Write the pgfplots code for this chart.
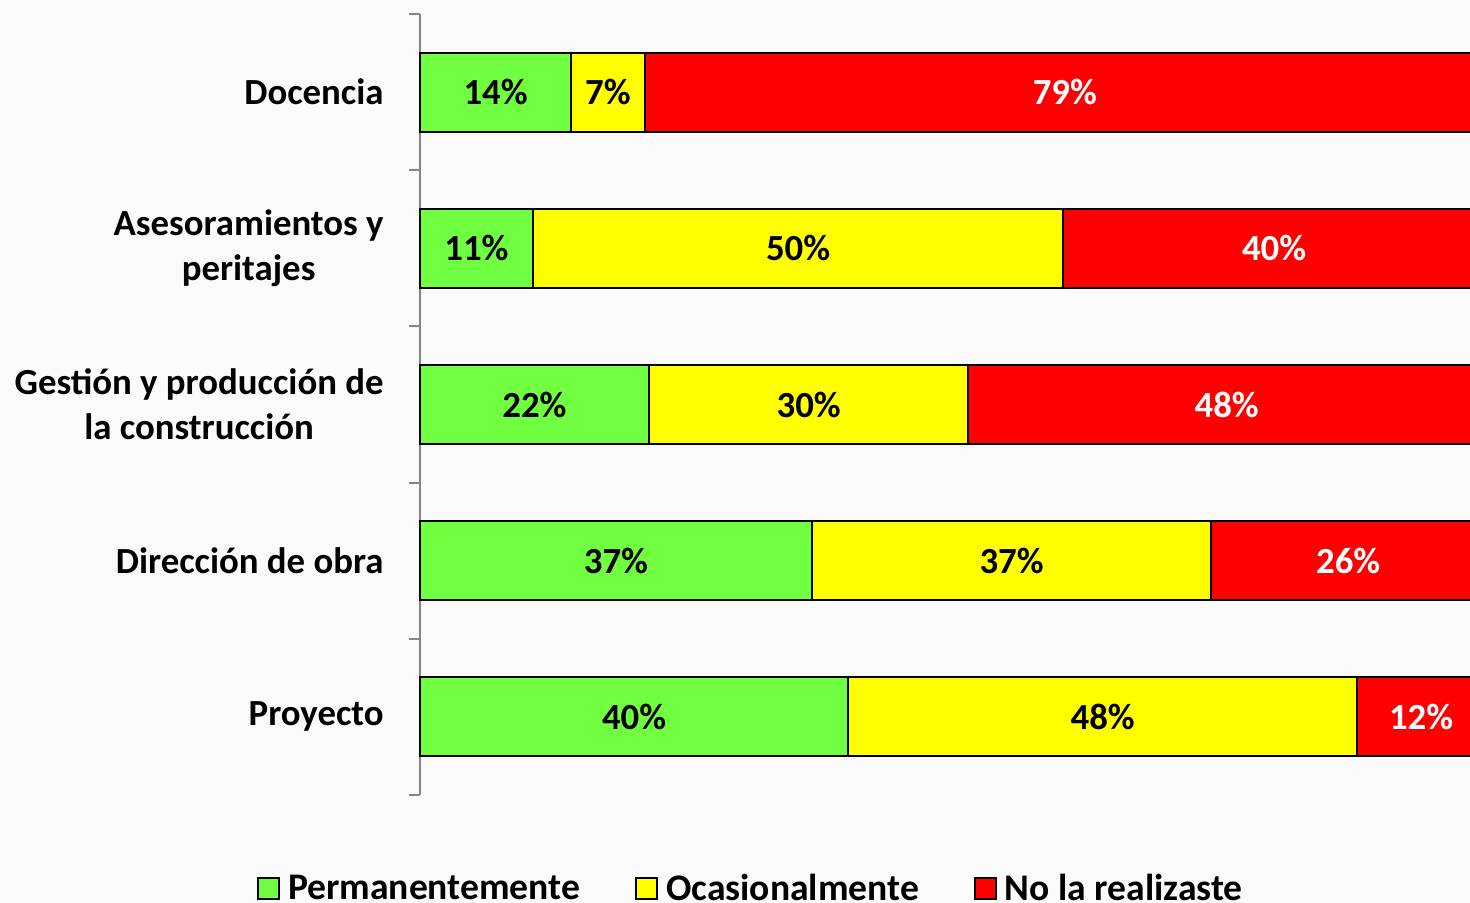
\documentclass[border=0pt]{standalone}
\usepackage{pgfplots}
\pgfplotsset{compat=1.18}
\usepackage{pgfplotstable}
\usepackage{fontspec}
\setmainfont{Carlito}
\definecolor{cgreen}{RGB}{112,255,64}
\definecolor{cyellow}{RGB}{255,255,0}
\definecolor{cred}{RGB}{255,0,0}
\definecolor{axgray}{RGB}{134,134,134}
\definecolor{bg}{RGB}{250,250,250}
\newcommand{\bigbf}{\fontsize{18.4}{22.5}\selectfont\bfseries}

\pgfplotstableread{
y val lab
0 40.2 40
1 36.8 37
2 21.5 22
3 10.6 11
4 14.2 14
}\perm
\pgfplotstableread{
y val lab
0 47.8 48
1 37.5 37
2 30.0 30
3 49.8 50
4 6.9 7
}\ocas
\pgfplotstableread{
y val lab
0 12.0 12
1 25.7 26
2 48.5 48
3 39.6 40
4 78.9 79
}\nore

\begin{document}
\begin{tikzpicture}
\fill[bg] (-210pt,-54pt) rectangle (525pt,397.5pt);
\begin{axis}[
  at={(0,0)}, anchor=south west,
  scale only axis,
  width=532.5pt, height=390.5pt,
  xbar stacked,
  xmin=0, xmax=100,
  ymin=-0.5, ymax=4.5,
  bar width=39.5pt,
  axis x line=none,
  axis y line*=left,
  y axis line style={axgray, line width=1pt},
  ytick={0,1,2,3,4},
  yticklabels={Proyecto, Dirección de obra, {Gestión y producción de\\la construcción}, {Asesoramientos y\\peritajes}, Docencia},
  major tick length=0pt,
  minor ytick={-0.5,0.5,1.5,2.5,3.5,4.5},
  minor tick length=5.5pt,
  tick align=outside,
  every tick/.style={axgray, line width=1pt},
  yticklabel style={align=center, font=\bigbf, inner sep=0pt, xshift=-18pt},
  point meta=explicit symbolic,
  nodes near coords={\pgfplotspointmeta\%},
  every node near coord/.append style={anchor=center, font=\bigbf},
  legend style={draw=none, fill=none, legend columns=3,
    at={(axis description cs:-0.159,-0.12)}, anchor=west, font=\fontsize{18.8}{22.5}\selectfont\bfseries,
    /tikz/every even column/.append style={column sep=25.5pt}},
  legend image code/.code={\draw[#1, line width=1pt] (0pt,-5.25pt) rectangle (10.5pt,5.25pt); \path[draw=none, fill=none] (10.5pt,0pt) -- (13pt,0pt);},
  clip=false,
]
\addplot[fill=cgreen, draw=black, line width=1pt, every node near coord/.append style={text=black}] table[x=val, y=y, meta=lab]{\perm};
\addplot[fill=cyellow, draw=black, line width=1pt, every node near coord/.append style={text=black}] table[x=val, y=y, meta=lab]{\ocas};
\addplot[fill=cred, draw=black, line width=1pt, every node near coord/.append style={text=white}] table[x=val, y=y, meta=lab]{\nore};
\legend{Permanentemente, Ocasionalmente, No la realizaste}
\end{axis}
\pgfresetboundingbox
\useasboundingbox (-210pt,-54pt) rectangle (525pt,397.5pt);
\end{tikzpicture}
\end{document}
